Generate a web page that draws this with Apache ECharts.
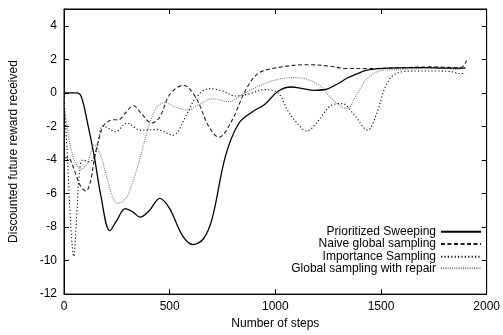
<!DOCTYPE html>
<html><head><meta charset="utf-8">
<script src="https://cdn.jsdelivr.net/npm/echarts@6/dist/echarts.min.js"></script>
<style>html,body{margin:0;padding:0;background:#fff}#c{width:503px;height:335px}</style>
</head><body><div id="c"></div>
<script>
var seriesNames = ['Prioritized Sweeping', 'Naive global sampling', 'Importance Sampling', 'Global sampling with repair'];
var xTicks = [0, 500, 1000, 1500, 2000];
var yTicks = [-12, -10, -8, -6, -4, -2, 0, 2, 4];

var psX = [0, 30, 57, 81, 112, 143, 174, 217, 250, 290, 325, 360, 405, 453, 500, 560, 609, 660, 702, 764, 826, 888, 951, 1013, 1075, 1130, 1184, 1238, 1290, 1339, 1390, 1432, 1500, 1586, 1700, 1800, 1900];
var psY = [0, 0, 0, -0.2, -1.84, -3.77, -6.1, -8.22, -7.6, -6.9, -7.1, -7.41, -7.0, -6.29, -6.9, -8.5, -9.05, -8.7, -7.45, -3.77, -1.84, -1.16, -0.68, 0.1, 0.35, 0.25, 0.15, 0.2, 0.5, 0.87, 1.15, 1.35, 1.45, 1.49, 1.5, 1.47, 1.48];

var ngX = [0, 20, 40, 60, 80, 104, 125, 143, 160, 185, 210, 235, 259, 290, 329, 370, 415, 453, 500, 565, 624, 686, 733, 795, 857, 919, 1013, 1152, 1250, 1339, 1450, 1600, 1750, 1860, 1885, 1905];
var ngY = [-3.9, -3.85, -4.3, -5.0, -5.6, -5.86, -5.3, -4.0, -3.0, -2.0, -1.7, -1.6, -1.6, -1.2, -0.77, -1.3, -1.8, -1.45, -0.1, 0.45, -0.29, -2.03, -2.65, -1.64, 0.1, 1.16, 1.51, 1.68, 1.6, 1.45, 1.45, 1.5, 1.55, 1.5, 1.55, 1.93];

var isX = [0, 15, 30, 46, 60, 73, 88, 115, 135, 158, 182, 210, 244, 298, 360, 438, 515, 578, 624, 686, 748, 811, 865, 951, 1013, 1059, 1106, 1148, 1199, 1261, 1316, 1370, 1437, 1479, 1525, 1572, 1665, 1760, 1836, 1867, 1900];
var isY = [-0.5, -3.5, -7.5, -9.75, -7.3, -4.8, -4.0, -4.1, -4.0, -3.2, -1.97, -2.1, -2.32, -1.8, -2.22, -2.19, -2.52, -1.35, -0.29, 0.25, 0.13, -0.19, -0.1, 0.19, 0.0, -1.06, -1.84, -2.28, -1.74, -0.77, -0.64, -1.26, -2.22, -1.26, 0.48, 1.16, 1.3, 1.3, 1.26, 1.16, 1.15];

var grX = [0, 3, 19, 42, 60, 81, 112, 143, 174, 205, 230, 252, 275, 298, 320, 345, 368, 391, 415, 438, 477, 531, 585, 640, 702, 780, 842, 919, 1013, 1090, 1152, 1214, 1277, 1339, 1385, 1432, 1494, 1618, 1772, 1860, 1900];
var grY = [0, -0.87, -2.42, -3.77, -4.3, -4.55, -4.16, -3.1, -3.77, -5.13, -6.2, -6.58, -6.5, -6.19, -5.5, -4.55, -3.5, -2.42, -1.5, -0.87, -0.58, -0.87, -1.03, -0.68, -0.35, -0.52, -0.1, 0.39, 0.81, 0.91, 0.8, 0.39, -0.48, -0.93, -0.1, 0.8, 1.3, 1.4, 1.51, 1.4, 1.5];

function pairs(xs, ys) { return xs.map(function (x, i) { return [x, ys[i]]; }); }

var FONT = 'Liberation Sans';
var styles = [
  { color: '#000', width: 1.3, type: 'solid' },
  { color: '#222', width: 1.1, type: [4, 2.5] },
  { color: '#111', width: 1.1, type: [1.2, 2.2] },
  { color: '#7a7a7a', width: 1.1, type: [1, 1.2] }
];
var dataSets = [pairs(psX, psY), pairs(ngX, ngY), pairs(isX, isY), pairs(grX, grY)];
var legendCenters = [232.7, 245, 257.7, 269.3];

var chart = echarts.init(document.getElementById('c'), null, { renderer: 'canvas' });
var tickStyle = { show: true, inside: true, length: 5, lineStyle: { color: '#000', width: 1 } };
var lineAx = { show: true, onZero: false, lineStyle: { color: '#000', width: 1 } };
chart.setOption({
  animation: false,
  backgroundColor: '#fff',
  textStyle: { fontFamily: FONT },
  grid: { left: 63, right: 12, top: 9, bottom: 34, show: true, borderColor: '#000', borderWidth: 1 },
  legend: seriesNames.map(function (n, i) {
    return {
      data: [n], orient: 'vertical', align: 'right', right: 21, top: legendCenters[i] - 7,
      padding: 0, itemWidth: 40, itemHeight: 8, itemGap: 0, selectedMode: false,
      itemStyle: { opacity: 0, borderWidth: 0 },
      textStyle: { fontFamily: FONT, fontSize: 12, color: '#000' }
    };
  }),
  xAxis: [{
    type: 'value', min: 0, max: 2000, interval: 500, position: 'bottom',
    name: 'Number of steps', nameLocation: 'middle', nameGap: 20,
    nameTextStyle: { fontFamily: FONT, fontSize: 12, color: '#000' },
    axisLine: lineAx, axisTick: tickStyle, splitLine: { show: false },
    axisLabel: { fontFamily: FONT, fontSize: 12, color: '#000', margin: 7,
      formatter: function (v) { return xTicks.indexOf(v) >= 0 ? String(v) : ''; } }
  }, {
    type: 'value', min: 0, max: 2000, interval: 500, position: 'top',
    axisLine: lineAx, axisTick: tickStyle, axisLabel: { show: false }, splitLine: { show: false }
  }],
  yAxis: [{
    type: 'value', min: -12, max: 5, interval: 2, position: 'left',
    name: 'Discounted future reward received', nameLocation: 'middle', nameGap: 44,
    nameTextStyle: { fontFamily: FONT, fontSize: 12, color: '#000' },
    axisLine: lineAx, axisTick: tickStyle, splitLine: { show: false },
    axisLabel: { fontFamily: FONT, fontSize: 12, color: '#000', margin: 7, showMaxLabel: false,
      formatter: function (v) { return yTicks.indexOf(v) >= 0 ? String(v) : ''; } }
  }, {
    type: 'value', min: -12, max: 5, interval: 2, position: 'right',
    axisLine: lineAx, axisTick: tickStyle, axisLabel: { show: false }, splitLine: { show: false }
  }],
  series: seriesNames.map(function (n, i) {
    return {
      name: n, type: 'line', data: dataSets[i], smooth: 0.35, symbol: 'none', showSymbol: false,
      xAxisIndex: 0, yAxisIndex: 0,
      lineStyle: { color: styles[i].color, width: styles[i].width, type: styles[i].type },
      itemStyle: { color: styles[i].color }, z: 4 - i
    };
  })
});
</script></body></html>
